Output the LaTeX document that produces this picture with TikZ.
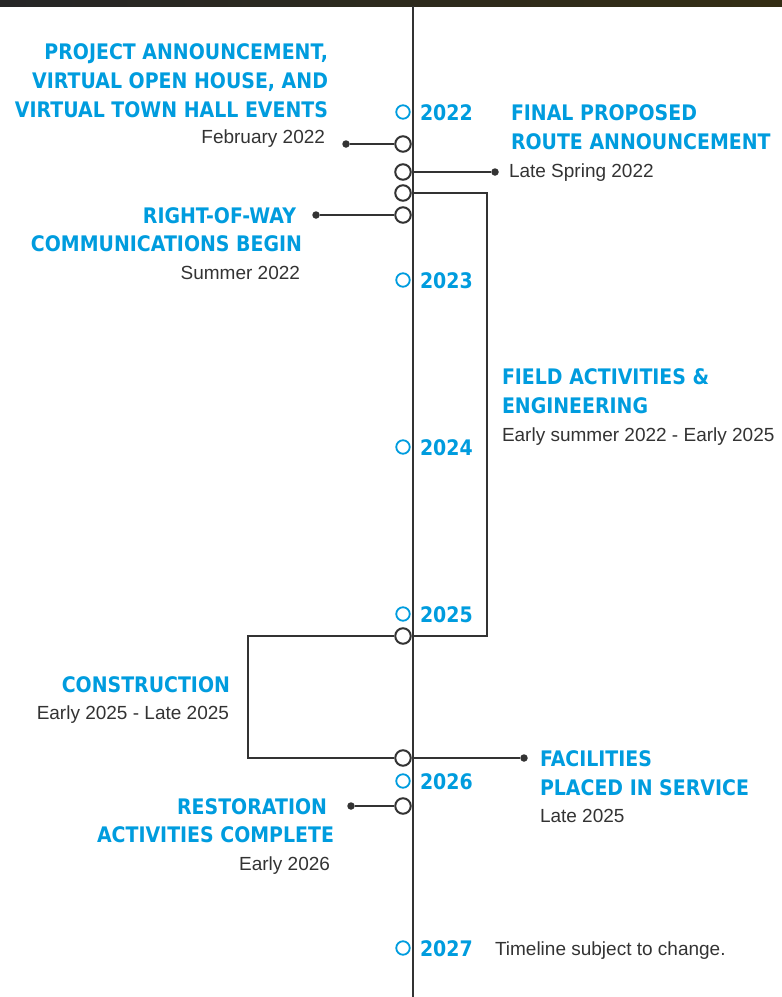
\documentclass[tikz,border=0pt]{standalone}
\usepackage{fontspec}
\setmainfont{Liberation Sans}
\newfontfamily\headfont[FakeStretch=0.885]{DejaVu Sans}
\usetikzlibrary{shapes}
\usetikzlibrary{arrows}
\definecolor{tlblue}{RGB}{0,156,222}
\definecolor{tlgray}{RGB}{51,51,51}
\tikzset{
	tl_txt/.style = {inner sep=0pt, outer sep=0pt},
	tl_head/.style = {tl_txt, tlblue, font=\headfont\bfseries\fontsize{21.4}{22}\selectfont},% titre
	tl_date/.style = {tl_txt, tlgray, font=\fontsize{19}{19}\selectfont},% date
	yr_c/.style = {circle, draw=tlblue, line width=1.8pt, fill=white,
		minimum size=13.5pt, inner sep=0pt},% cercle annee
	ev_c/.style = {circle, draw=tlgray, line width=2pt, fill=white,
		minimum size=15.5pt, inner sep=0pt},% cercle evenement
	ev_dot/.style = {circle, fill=tlgray, minimum size=7.5pt, inner sep=0pt},% point
	ev_l/.style = {draw=tlgray, line width=1.6pt}% liaison
}
\begin{document}
\begin{tikzpicture}[x=1pt,y=-1pt]
	\useasboundingbox (0,0) rectangle (782,997);
	\shade[left color=black!85, right color={rgb,255:red,52;green,46;blue,20}] (0,0) rectangle (782,6);
	% axe
	\coordinate (tl_top) at (413,6);
	\coordinate (tl_bot) at (413,997);
	\draw[tlgray, line width=2pt] (tl_top) -- (tl_bot);
	% annees
	\foreach \yr/\yy in {2022/112,2023/280,2024/447,2025/614,2026/781,2027/948}{
		\node[yr_c] (y\yr) at (403,\yy) {};
		\node[tl_head, anchor=base west] (ly\yr) at (420,\yy+8) {\yr};
	}
	% evenements
	\node[ev_c] (e_feb) at (403,144) {};
	\node[ev_c] (e_spr) at (403,172) {};
	\node[ev_c] (e_fld) at (403,193) {};
	\node[ev_c] (e_row) at (403,215) {};
	\node[ev_c] (e_cst) at (403,636) {};
	\node[ev_c] (e_fac) at (403,758) {};
	\node[ev_c] (e_rst) at (403,806) {};
	\node[ev_dot] (d_feb) at (346,144) {};
	\node[ev_dot] (d_spr) at (495,172) {};
	\node[ev_dot] (d_row) at (316,215) {};
	\node[ev_dot] (d_fac) at (524,758) {};
	\node[ev_dot] (d_rst) at (351,806) {};
	\coordinate (k_fld) at (487,400);
	\coordinate (k_cst) at (248,700);
	\draw[ev_l] (d_feb) -- (e_feb);
	\draw[ev_l] (e_spr) -- (d_spr);
	\draw[ev_l] (d_row) -- (e_row);
	\draw[ev_l] (e_fac) -- (d_fac);
	\draw[ev_l] (d_rst) -- (e_rst);
	\draw[ev_l] (e_fld.east) -- (k_fld |- e_fld) -- (k_fld |- e_cst) -- (e_cst.east);
	\draw[ev_l] (e_cst.west) -- (k_cst |- e_cst) -- (k_cst |- e_fac) -- (e_fac.west);
	% textes
	\node[tl_head, anchor=base east] (t_pa1) at (328,59) {PROJECT ANNOUNCEMENT,};
	\node[tl_head, anchor=base east] (t_pa2) at (328,88) {VIRTUAL OPEN HOUSE, AND};
	\node[tl_head, anchor=base east] (t_pa3) at (328,117) {VIRTUAL TOWN HALL EVENTS};
	\node[tl_date, anchor=base east] (t_pa4) at (325,143) {February 2022};
	\node[tl_head, anchor=base west] (t_fp1) at (511,120) {FINAL PROPOSED};
	\node[tl_head, anchor=base west] (t_fp2) at (511,149) {ROUTE ANNOUNCEMENT};
	\node[tl_date, anchor=base west] (t_fp3) at (509,177) {Late Spring 2022};
	\node[tl_head, anchor=base east] (t_rw1) at (296,223) {RIGHT-OF-WAY};
	\node[tl_head, anchor=base east] (t_rw2) at (302,251) {COMMUNICATIONS BEGIN};
	\node[tl_date, anchor=base east] (t_rw3) at (300,279) {Summer 2022};
	\node[tl_head, anchor=base west] (t_fa1) at (502,384) {FIELD ACTIVITIES \&};
	\node[tl_head, anchor=base west] (t_fa2) at (502,413) {ENGINEERING};
	\node[tl_date, anchor=base west] (t_fa3) at (502,441) {Early summer 2022 - Early 2025};
	\node[tl_head, anchor=base east] (t_cs1) at (230,692) {CONSTRUCTION};
	\node[tl_date, anchor=base east] (t_cs2) at (229,719) {Early 2025 - Late 2025};
	\node[tl_head, anchor=base west] (t_fc1) at (540,766) {FACILITIES};
	\node[tl_head, anchor=base west] (t_fc2) at (540,795) {PLACED IN SERVICE};
	\node[tl_date, anchor=base west] (t_fc3) at (540,822) {Late 2025};
	\node[tl_head, anchor=base east] (t_rs1) at (327,814) {RESTORATION};
	\node[tl_head, anchor=base east] (t_rs2) at (334,842) {ACTIVITIES COMPLETE};
	\node[tl_date, anchor=base east] (t_rs3) at (330,870) {Early 2026};
	\node[tl_date, anchor=base west] (t_nt) at (495,955) {Timeline subject to change.};
\end{tikzpicture}
\end{document}
